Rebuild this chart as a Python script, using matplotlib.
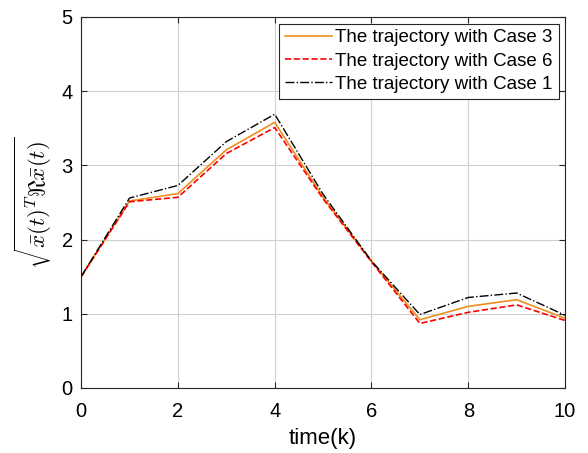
import matplotlib.pyplot as plt

plt.rcParams['font.family'] = ['Liberation Sans', 'DejaVu Sans']
plt.rcParams['mathtext.fontset'] = 'cm'

k = [0, 1, 2, 3, 4, 5, 6, 7, 8, 9, 10]
case3 = [1.50, 2.52, 2.62, 3.21, 3.58, 2.57, 1.71, 0.92, 1.10, 1.19, 0.94]
case6 = [1.50, 2.51, 2.57, 3.16, 3.51, 2.55, 1.70, 0.87, 1.02, 1.12, 0.91]
case1 = [1.50, 2.56, 2.73, 3.32, 3.69, 2.61, 1.71, 0.99, 1.22, 1.28, 0.98]

fig = plt.figure(figsize=(5.88, 4.53), dpi=100)
ax = fig.add_axes([0.138, 0.1435, 0.823, 0.819])

ax.plot(k, case3, color='#EC8F1E', lw=1.2, label='The trajectory with Case 3')
ax.plot(k, case6, 'r--', lw=1.2, label='The trajectory with Case 6')
ax.plot(k, case1, 'k-.', lw=1.0, label='The trajectory with Case 1')

ax.set_xlim(0, 10)
ax.set_ylim(0, 5)
ax.set_xticks([0, 2, 4, 6, 8, 10])
ax.set_yticks([0, 1, 2, 3, 4, 5])
ax.grid(True, color='#d0d0d0', lw=0.8)
ax.set_axisbelow(True)
ax.tick_params(direction='in', top=True, right=True, labelsize=14.5, colors='#262626',
               labelcolor='black', length=4, pad=6)
ax.tick_params(axis='x', pad=10)
for s in ax.spines.values():
    s.set_color('#262626')
    s.set_linewidth(0.8)

ax.set_xlabel('time(k)', fontsize=16, labelpad=5)
ax.set_ylabel(r'$\sqrt{\bar{x}(t)^T\Re\bar{x}(t)}$', fontsize=16.5, labelpad=5)

leg = ax.legend(loc='upper right', fontsize=13.5, fancybox=False, framealpha=1,
                edgecolor='#262626', borderpad=0.3, labelspacing=0.33,
                handlelength=2.5, handletextpad=0.2, borderaxespad=0.35)
leg.get_frame().set_linewidth(0.8)

fig.savefig('out.png', dpi=100)
